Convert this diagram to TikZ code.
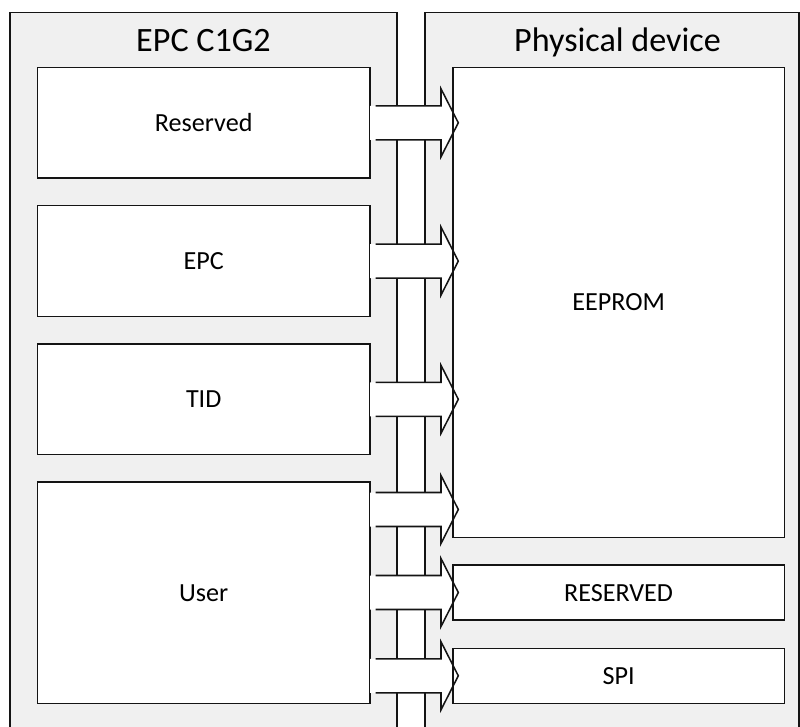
\documentclass[tikz,border=0pt]{standalone}
\usepackage{fontspec}
\setmainfont{Carlito}
\definecolor{panelgray}{HTML}{F0F0F0}
\definecolor{linecol}{HTML}{141414}
\newcommand\blockarr[1]{%
  \fill[white] (370,#1-17) -- (441,#1-17) -- (441,#1-34) -- (458.3,#1) -- (441,#1+34) -- (441,#1+17) -- (370,#1+17) -- cycle;
  \draw[arrline] (375.5,#1-17) -- (441,#1-17) -- (441,#1-34) -- (458.3,#1) -- (441,#1+34) -- (441,#1+17) -- (375.5,#1+17);
}
\begin{document}
\begin{tikzpicture}[x=0.75pt,y=-0.75pt,
  panel/.style={draw=linecol, fill=panelgray, line width=1.15pt},
  box/.style={draw=linecol, fill=white, line width=1.15pt},
  boxline/.style={draw=linecol, line width=1.15pt},
  arrline/.style={draw=linecol, line width=1.15pt, line join=miter},
  lbl/.style={font=\fontsize{19.6}{22}\selectfont, anchor=base, inner sep=0pt},
  ttl/.style={font=\fontsize{25.6}{30}\selectfont, anchor=base, inner sep=0pt}]
\clip (0,0) rectangle (800,727);
\fill[white] (0,0) rectangle (800,727);
% panels
\filldraw[panel] (10,745) -- (10,12.5) -- (397,12.5) -- (397,745);
\filldraw[panel] (425,745) -- (425,12.5) -- (799,12.5) -- (799,745);
\node[ttl] (t1) at (203.5,51.7) {EPC C1G2};
\node[ttl] (t2) at (617.5,51.7) {Physical device};
% left boxes
\draw[box] (37.5,67.5) rectangle (370,178.2);
\draw[box] (37.5,205.5) rectangle (370,316.7);
\draw[box] (37.5,344) rectangle (370,454.7);
\draw[box] (37.5,482) rectangle (370,703.3);
\node[lbl] (lres) at (203.7,131.3) {Reserved};
\node[lbl] (lepc) at (203.7,269.6) {EPC};
\node[lbl] (ltid) at (203.7,407.8) {TID};
\node[lbl] (luser) at (203.7,601) {User};
% right boxes
\draw[box] (453,67.5) rectangle (784.3,537.3);
\draw[box] (453,565) rectangle (784.3,620);
\draw[box] (453,648.3) rectangle (784.3,703.3);
% arrows
\blockarr{122.8}
\blockarr{261.1}
\blockarr{399.3}
\blockarr{509.5}
\blockarr{592.5}
\blockarr{675.8}
% redraw right box borders
\draw[boxline] (453,67.5) rectangle (784.3,537.3);
\draw[boxline] (453,565) rectangle (784.3,620);
\draw[boxline] (453,648.3) rectangle (784.3,703.3);
\node[lbl] (reeprom) at (618.6,310.9) {EEPROM};
\node[lbl] (rres) at (618.6,601) {RESERVED};
\node[lbl] (rspi) at (618.6,684.3) {SPI};
\end{tikzpicture}
\end{document}
